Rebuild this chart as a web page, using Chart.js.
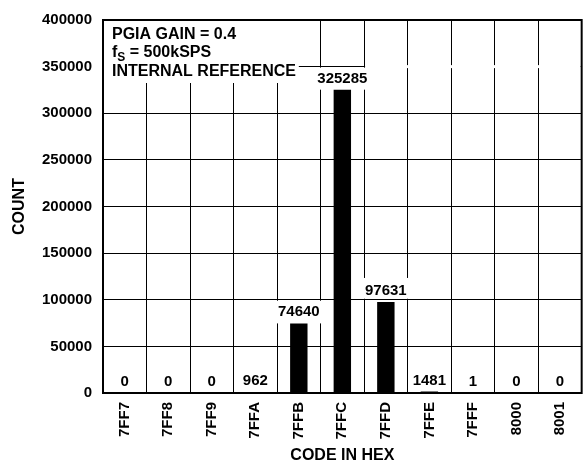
<!DOCTYPE html>
<html>
<head>
<meta charset="utf-8">
<script src="https://cdn.jsdelivr.net/npm/chart.js@4/dist/chart.umd.min.js"></script>
<style>
  body { margin: 0; background: #fff; }
  canvas { display: block; }
</style>
</head>
<body>
<canvas id="histChart" width="587" height="466"></canvas>
<script>
// Histogram data
const codes = ['7FF7', '7FF8', '7FF9', '7FFA', '7FFB', '7FFC', '7FFD', '7FFE', '7FFF', '8000', '8001'];
const counts = [0, 0, 0, 962, 74640, 325285, 97631, 1481, 1, 0, 0];
const countTicks = [0, 50000, 100000, 150000, 200000, 250000, 300000, 350000, 400000];

const FONT = '"Liberation Sans", Arial, sans-serif';
const valueFont = 'bold 15px ' + FONT;

// White gaps behind the note box and the big value labels, then labels + frame
const annotate = {
  id: 'annotate',
  beforeDatasetsDraw(chart) {
    const { ctx, chartArea: a, scales: { x, y } } = chart;
    const half = (x.getPixelForValue(1) - x.getPixelForValue(0)) / 2;
    ctx.save();
    ctx.fillStyle = '#fff';

    // note box in the top left corner
    ctx.fillRect(a.left + 1, a.top + 1, x.getPixelForValue(4) - a.left - 1, 62);

    // the 350000 line stops at the 7FFC cell
    const y35 = y.getPixelForValue(350000);
    const cut = x.getPixelForValue(6) - half + 1;
    ctx.fillRect(cut, y35 - 1.5, a.right - cut - 1, 3);

    // clear grid behind the large labels
    counts.forEach((v, i) => {
      if (v < 10000) return;
      const base = y.getPixelForValue(v) - 7;
      let top = base - 17, bottom = base + 7;
      countTicks.forEach(t => {
        const p = y.getPixelForValue(t);
        if (p < base && p + 1 > top) top = p + 1;
        if (p > base && p - 1 < bottom) bottom = p - 1;
      });
      const cx = x.getPixelForValue(i);
      ctx.fillRect(cx - half - 1.5, top, half * 2 + 3, bottom - top);
    });
    ctx.restore();
  },
  afterDatasetsDraw(chart) {
    const { ctx, chartArea: a, scales: { x, y } } = chart;
    ctx.save();
    ctx.fillStyle = '#000';

    // value labels
    ctx.font = valueFont;
    ctx.textAlign = 'center';
    ctx.textBaseline = 'alphabetic';
    counts.forEach((v, i) => {
      ctx.fillText(String(v), x.getPixelForValue(i), y.getPixelForValue(v) - 7);
    });

    // test conditions
    ctx.textAlign = 'left';
    const lx = a.left + 9;
    ctx.font = 'bold 16px ' + FONT;
    ctx.fillText('PGIA GAIN = 0.4', lx, a.top + 19);
    let px = lx;
    ctx.fillText('f', px, a.top + 37);
    px += ctx.measureText('f').width;
    ctx.font = 'bold 12px ' + FONT;
    ctx.fillText('S', px, a.top + 41);
    px += ctx.measureText('S').width;
    ctx.font = 'bold 16px ' + FONT;
    ctx.fillText(' = 500kSPS', px, a.top + 37);
    ctx.fillText('INTERNAL REFERENCE', lx, a.top + 56);

    // plot frame
    ctx.strokeStyle = '#000';
    ctx.lineWidth = 2;
    ctx.strokeRect(a.left, a.top, a.right - a.left, a.bottom - a.top);
    ctx.restore();
  }
};

const ctx = document.getElementById('histChart').getContext('2d');
new Chart(ctx, {
  type: 'bar',
  data: {
    labels: codes,
    datasets: [{
      data: counts,
      backgroundColor: '#000',
      borderWidth: 0,
      barPercentage: 0.4,
      categoryPercentage: 1
    }]
  },
  options: {
    responsive: false,
    animation: false,
    layout: { padding: { top: 10, right: 2, left: 0, bottom: 0 } },
    plugins: {
      legend: { display: false },
      tooltip: { enabled: false }
    },
    scales: {
      x: {
        grid: { color: '#000', lineWidth: 1, drawTicks: false, offset: true },
        border: { color: '#000', width: 2 },
        ticks: {
          color: '#000',
          font: { family: FONT, size: 15, weight: 'bold' },
          minRotation: 90,
          maxRotation: 90,
          padding: 9,
          autoSkip: false
        },
        title: {
          display: true,
          text: 'CODE IN HEX',
          color: '#000',
          font: { family: FONT, size: 16, weight: 'bold' },
          padding: { top: 0, bottom: 1 }
        },
        afterFit(scale) { scale.height = 73; }
      },
      y: {
        min: 0,
        max: 400000,
        grid: { color: '#000', lineWidth: 1, drawTicks: false },
        border: { color: '#000', width: 2 },
        afterBuildTicks(scale) { scale.ticks = countTicks.map(v => ({ value: v })); },
        ticks: {
          color: '#000',
          font: { family: FONT, size: 15, weight: 'bold' },
          padding: 11,
          callback: value => String(value)
        },
        title: {
          display: true,
          text: 'COUNT',
          color: '#000',
          font: { family: FONT, size: 16, weight: 'bold' },
          padding: { top: 10, bottom: 0 }
        },
        afterFit(scale) { scale.width = 103; }
      }
    }
  },
  plugins: [annotate]
});
</script>
</body>
</html>
